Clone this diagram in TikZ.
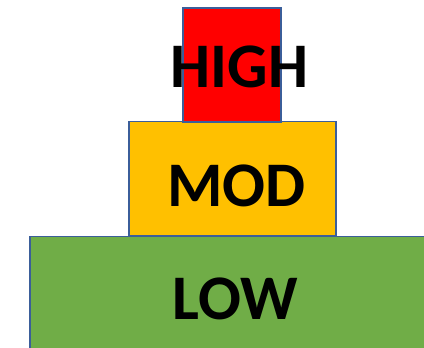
\documentclass[tikz,border=0pt]{standalone}
\usepackage{fontspec}
\setmainfont{Carlito}
\definecolor{edge}{HTML}{3B5E9A}
\definecolor{hiRed}{HTML}{FF0000}
\definecolor{modOrange}{HTML}{FFC000}
\definecolor{lowGreen}{HTML}{70AD47}
\begin{document}
\begin{tikzpicture}[x=1pt,y=1pt,
  tier/.style={draw=edge,line width=1.9pt,inner sep=0pt,outer sep=0pt},
  lbl/.style={inner sep=0pt,anchor=base,font=\bfseries\fontsize{63.5}{64}\selectfont,text=black}]
\useasboundingbox (0,0) rectangle (424,348);
\clip (0,0) rectangle (424,348);
\fill[white] (0,0) rectangle (424,348);
\node[tier,fill=lowGreen,minimum width=410pt,minimum height=121.5pt] (lowbox) at (235,50.75) {};
\node[tier,fill=modOrange,minimum width=207pt,minimum height=114.5pt] (modbox) at (232.5,169.25) {};
\node[tier,fill=hiRed,minimum width=98pt,minimum height=114pt] (highbox) at (232,283) {};
\node[lbl] (low) at (235,28.7) {LOW};
\node[lbl] (mod) at (236.5,141.3) {MOD};
\node[lbl] (high) at (239.5,260) {HIGH};
\end{tikzpicture}
\end{document}
